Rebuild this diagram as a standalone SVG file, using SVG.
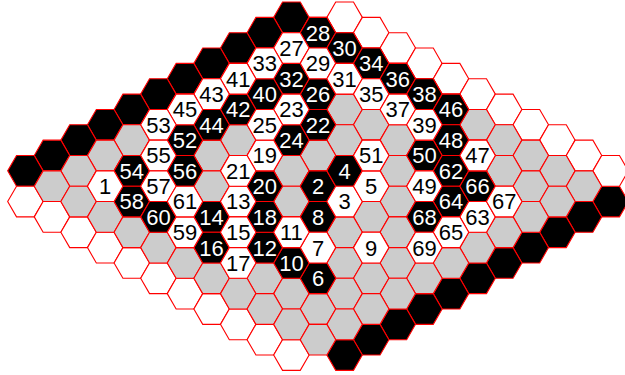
<svg xmlns="http://www.w3.org/2000/svg" xmlns:xlink="http://www.w3.org/1999/xlink" width="625" height="375" viewBox="0 0 625 375">
<style>
.hx{stroke:#ff0000;stroke-width:1.1;stroke-linejoin:miter}
.g{fill:#cccccc}
.b{fill:#000000}
.w{fill:#ffffff}
text{font-family:"Liberation Sans",Arial,sans-serif;font-size:22px;text-anchor:middle}
.tb{fill:#ffffff}
.tw{fill:#000000}
</style>
<defs>
<polygon id="h" points="-17.73,0 -8.865,-15.35 8.865,-15.35 17.73,0 8.865,15.35 -8.865,15.35"/>
<g id="row">
<use href="#h" x="0" y="0"/><use href="#h" x="26.6" y="15.35"/><use href="#h" x="53.2" y="30.7"/><use href="#h" x="79.8" y="46.05"/><use href="#h" x="106.4" y="61.4"/><use href="#h" x="133" y="76.75"/><use href="#h" x="159.6" y="92.1"/><use href="#h" x="186.2" y="107.45"/><use href="#h" x="212.8" y="122.8"/><use href="#h" x="239.4" y="138.15"/><use href="#h" x="266" y="153.5"/>
</g>
<g id="col">
<use href="#h" x="0" y="0"/><use href="#h" x="-26.6" y="15.35"/><use href="#h" x="-53.2" y="30.7"/><use href="#h" x="-79.8" y="46.05"/><use href="#h" x="-106.4" y="61.4"/><use href="#h" x="-133" y="76.75"/><use href="#h" x="-159.6" y="92.1"/><use href="#h" x="-186.2" y="107.45"/><use href="#h" x="-212.8" y="122.8"/><use href="#h" x="-239.4" y="138.15"/><use href="#h" x="-266" y="153.5"/>
</g>
</defs>
<g id="borders">
<use id="border-black-topleft" href="#col" x="291.4" y="17.35" class="hx b"/>
<use id="border-black-bottomright" href="#col" x="610.6" y="201.55" class="hx b"/>
<use id="border-white-topright" href="#row" x="344.6" y="17.35" class="hx w"/>
<use id="border-white-bottomleft" href="#row" x="25.4" y="201.55" class="hx w"/>
</g>
<g id="board">
<use href="#row" x="318" y="32.7" class="hx g"/>
<use href="#row" x="291.4" y="48.05" class="hx g"/>
<use href="#row" x="264.8" y="63.4" class="hx g"/>
<use href="#row" x="238.2" y="78.75" class="hx g"/>
<use href="#row" x="211.6" y="94.1" class="hx g"/>
<use href="#row" x="185" y="109.45" class="hx g"/>
<use href="#row" x="158.4" y="124.8" class="hx g"/>
<use href="#row" x="131.8" y="140.15" class="hx g"/>
<use href="#row" x="105.2" y="155.5" class="hx g"/>
<use href="#row" x="78.6" y="170.85" class="hx g"/>
<use href="#row" x="52" y="186.2" class="hx g"/>
</g>
<g id="connectors"></g>
<g id="black-stones">
<g id="m2" transform="translate(318,186.2)"><use href="#h" class="hx b"/><text class="tb" y="7.9">2</text></g>
<g id="m4" transform="translate(344.6,170.85)"><use href="#h" class="hx b"/><text class="tb" y="7.9">4</text></g>
<g id="m6" transform="translate(318,278.3)"><use href="#h" class="hx b"/><text class="tb" y="7.9">6</text></g>
<g id="m8" transform="translate(318,216.9)"><use href="#h" class="hx b"/><text class="tb" y="7.9">8</text></g>
<g id="m10" transform="translate(291.4,262.95)"><use href="#h" class="hx b"/><text class="tb" y="7.9">10</text></g>
<g id="m12" transform="translate(264.8,247.6)"><use href="#h" class="hx b"/><text class="tb" y="7.9">12</text></g>
<g id="m14" transform="translate(211.6,216.9)"><use href="#h" class="hx b"/><text class="tb" y="7.9">14</text></g>
<g id="m16" transform="translate(211.6,247.6)"><use href="#h" class="hx b"/><text class="tb" y="7.9">16</text></g>
<g id="m18" transform="translate(264.8,216.9)"><use href="#h" class="hx b"/><text class="tb" y="7.9">18</text></g>
<g id="m20" transform="translate(264.8,186.2)"><use href="#h" class="hx b"/><text class="tb" y="7.9">20</text></g>
<g id="m22" transform="translate(318,124.8)"><use href="#h" class="hx b"/><text class="tb" y="7.9">22</text></g>
<g id="m24" transform="translate(291.4,140.15)"><use href="#h" class="hx b"/><text class="tb" y="7.9">24</text></g>
<g id="m26" transform="translate(318,94.1)"><use href="#h" class="hx b"/><text class="tb" y="7.9">26</text></g>
<g id="m28" transform="translate(318,32.7)"><use href="#h" class="hx b"/><text class="tb" y="7.9">28</text></g>
<g id="m30" transform="translate(344.6,48.05)"><use href="#h" class="hx b"/><text class="tb" y="7.9">30</text></g>
<g id="m32" transform="translate(291.4,78.75)"><use href="#h" class="hx b"/><text class="tb" y="7.9">32</text></g>
<g id="m34" transform="translate(371.2,63.4)"><use href="#h" class="hx b"/><text class="tb" y="7.9">34</text></g>
<g id="m36" transform="translate(397.8,78.75)"><use href="#h" class="hx b"/><text class="tb" y="7.9">36</text></g>
<g id="m38" transform="translate(424.4,94.1)"><use href="#h" class="hx b"/><text class="tb" y="7.9">38</text></g>
<g id="m40" transform="translate(264.8,94.1)"><use href="#h" class="hx b"/><text class="tb" y="7.9">40</text></g>
<g id="m42" transform="translate(238.2,109.45)"><use href="#h" class="hx b"/><text class="tb" y="7.9">42</text></g>
<g id="m44" transform="translate(211.6,124.8)"><use href="#h" class="hx b"/><text class="tb" y="7.9">44</text></g>
<g id="m46" transform="translate(451,109.45)"><use href="#h" class="hx b"/><text class="tb" y="7.9">46</text></g>
<g id="m48" transform="translate(451,140.15)"><use href="#h" class="hx b"/><text class="tb" y="7.9">48</text></g>
<g id="m50" transform="translate(424.4,155.5)"><use href="#h" class="hx b"/><text class="tb" y="7.9">50</text></g>
<g id="m52" transform="translate(185,140.15)"><use href="#h" class="hx b"/><text class="tb" y="7.9">52</text></g>
<g id="m54" transform="translate(131.8,170.85)"><use href="#h" class="hx b"/><text class="tb" y="7.9">54</text></g>
<g id="m56" transform="translate(185,170.85)"><use href="#h" class="hx b"/><text class="tb" y="7.9">56</text></g>
<g id="m58" transform="translate(131.8,201.55)"><use href="#h" class="hx b"/><text class="tb" y="7.9">58</text></g>
<g id="m60" transform="translate(158.4,216.9)"><use href="#h" class="hx b"/><text class="tb" y="7.9">60</text></g>
<g id="m62" transform="translate(451,170.85)"><use href="#h" class="hx b"/><text class="tb" y="7.9">62</text></g>
<g id="m64" transform="translate(451,201.55)"><use href="#h" class="hx b"/><text class="tb" y="7.9">64</text></g>
<g id="m66" transform="translate(477.6,186.2)"><use href="#h" class="hx b"/><text class="tb" y="7.9">66</text></g>
<g id="m68" transform="translate(424.4,216.9)"><use href="#h" class="hx b"/><text class="tb" y="7.9">68</text></g>
</g>
<g id="white-stones">
<g id="m1" transform="translate(105.2,186.2)"><use href="#h" class="hx w"/><text class="tw" y="7.9">1</text></g>
<g id="m3" transform="translate(344.6,201.55)"><use href="#h" class="hx w"/><text class="tw" y="7.9">3</text></g>
<g id="m5" transform="translate(371.2,186.2)"><use href="#h" class="hx w"/><text class="tw" y="7.9">5</text></g>
<g id="m7" transform="translate(318,247.6)"><use href="#h" class="hx w"/><text class="tw" y="7.9">7</text></g>
<g id="m9" transform="translate(371.2,247.6)"><use href="#h" class="hx w"/><text class="tw" y="7.9">9</text></g>
<g id="m11" transform="translate(291.4,232.25)"><use href="#h" class="hx w"/><text class="tw" y="7.9">11</text></g>
<g id="m13" transform="translate(238.2,201.55)"><use href="#h" class="hx w"/><text class="tw" y="7.9">13</text></g>
<g id="m15" transform="translate(238.2,232.25)"><use href="#h" class="hx w"/><text class="tw" y="7.9">15</text></g>
<g id="m17" transform="translate(238.2,262.95)"><use href="#h" class="hx w"/><text class="tw" y="7.9">17</text></g>
<g id="m19" transform="translate(264.8,155.5)"><use href="#h" class="hx w"/><text class="tw" y="7.9">19</text></g>
<g id="m21" transform="translate(238.2,170.85)"><use href="#h" class="hx w"/><text class="tw" y="7.9">21</text></g>
<g id="m23" transform="translate(291.4,109.45)"><use href="#h" class="hx w"/><text class="tw" y="7.9">23</text></g>
<g id="m25" transform="translate(264.8,124.8)"><use href="#h" class="hx w"/><text class="tw" y="7.9">25</text></g>
<g id="m27" transform="translate(291.4,48.05)"><use href="#h" class="hx w"/><text class="tw" y="7.9">27</text></g>
<g id="m29" transform="translate(318,63.4)"><use href="#h" class="hx w"/><text class="tw" y="7.9">29</text></g>
<g id="m31" transform="translate(344.6,78.75)"><use href="#h" class="hx w"/><text class="tw" y="7.9">31</text></g>
<g id="m33" transform="translate(264.8,63.4)"><use href="#h" class="hx w"/><text class="tw" y="7.9">33</text></g>
<g id="m35" transform="translate(371.2,94.1)"><use href="#h" class="hx w"/><text class="tw" y="7.9">35</text></g>
<g id="m37" transform="translate(397.8,109.45)"><use href="#h" class="hx w"/><text class="tw" y="7.9">37</text></g>
<g id="m39" transform="translate(424.4,124.8)"><use href="#h" class="hx w"/><text class="tw" y="7.9">39</text></g>
<g id="m41" transform="translate(238.2,78.75)"><use href="#h" class="hx w"/><text class="tw" y="7.9">41</text></g>
<g id="m43" transform="translate(211.6,94.1)"><use href="#h" class="hx w"/><text class="tw" y="7.9">43</text></g>
<g id="m45" transform="translate(185,109.45)"><use href="#h" class="hx w"/><text class="tw" y="7.9">45</text></g>
<g id="m47" transform="translate(477.6,155.5)"><use href="#h" class="hx w"/><text class="tw" y="7.9">47</text></g>
<g id="m49" transform="translate(424.4,186.2)"><use href="#h" class="hx w"/><text class="tw" y="7.9">49</text></g>
<g id="m51" transform="translate(371.2,155.5)"><use href="#h" class="hx w"/><text class="tw" y="7.9">51</text></g>
<g id="m53" transform="translate(158.4,124.8)"><use href="#h" class="hx w"/><text class="tw" y="7.9">53</text></g>
<g id="m55" transform="translate(158.4,155.5)"><use href="#h" class="hx w"/><text class="tw" y="7.9">55</text></g>
<g id="m57" transform="translate(158.4,186.2)"><use href="#h" class="hx w"/><text class="tw" y="7.9">57</text></g>
<g id="m59" transform="translate(185,232.25)"><use href="#h" class="hx w"/><text class="tw" y="7.9">59</text></g>
<g id="m61" transform="translate(185,201.55)"><use href="#h" class="hx w"/><text class="tw" y="7.9">61</text></g>
<g id="m63" transform="translate(477.6,216.9)"><use href="#h" class="hx w"/><text class="tw" y="7.9">63</text></g>
<g id="m65" transform="translate(451,232.25)"><use href="#h" class="hx w"/><text class="tw" y="7.9">65</text></g>
<g id="m67" transform="translate(504.2,201.55)"><use href="#h" class="hx w"/><text class="tw" y="7.9">67</text></g>
<g id="m69" transform="translate(424.4,247.6)"><use href="#h" class="hx w"/><text class="tw" y="7.9">69</text></g>
</g>
</svg>
